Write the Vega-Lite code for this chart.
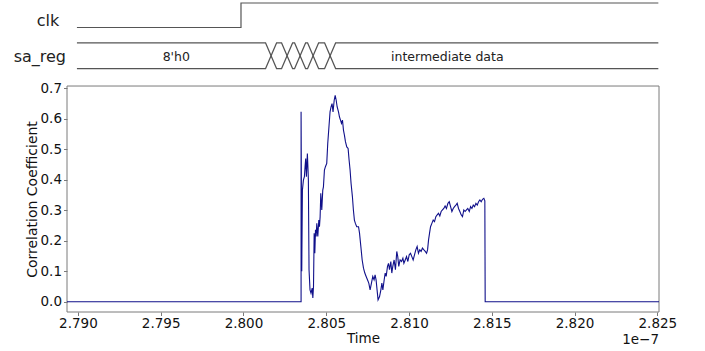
{
  "$schema": "https://vega.github.io/schema/vega-lite/v6.json",
  "width": 592,
  "height": 312,
  "autosize": {"type": "none"},
  "padding": {"left": 67, "top": 0, "right": 46, "bottom": 39},
  "background": "white",
  "config": {"view": {"stroke": null}, "font": "DejaVu Sans"},
  "datasets": {
    "corr": [
      {"i": 0, "t": 2.78934, "v": 0},
      {"i": 1, "t": 2.80348, "v": 0},
      {"i": 2, "t": 2.80348, "v": 0.623},
      {"i": 3, "t": 2.80352, "v": 0.1},
      {"i": 4, "t": 2.80356, "v": 0.366},
      {"i": 5, "t": 2.80362, "v": 0.399},
      {"i": 6, "t": 2.80368, "v": 0.41},
      {"i": 7, "t": 2.80372, "v": 0.443},
      {"i": 8, "t": 2.80376, "v": 0.47},
      {"i": 9, "t": 2.8038, "v": 0.41},
      {"i": 10, "t": 2.80386, "v": 0.486},
      {"i": 11, "t": 2.8039, "v": 0.432},
      {"i": 12, "t": 2.80392, "v": 0.399},
      {"i": 13, "t": 2.80396, "v": 0.105},
      {"i": 14, "t": 2.80402, "v": 0.039},
      {"i": 15, "t": 2.80408, "v": 0.028},
      {"i": 16, "t": 2.80415, "v": 0.045},
      {"i": 17, "t": 2.80419, "v": 0.012},
      {"i": 18, "t": 2.80423, "v": 0.05},
      {"i": 19, "t": 2.80427, "v": 0.225},
      {"i": 20, "t": 2.80431, "v": 0.159},
      {"i": 21, "t": 2.80435, "v": 0.236},
      {"i": 22, "t": 2.80439, "v": 0.214},
      {"i": 23, "t": 2.80443, "v": 0.257},
      {"i": 24, "t": 2.80449, "v": 0.214},
      {"i": 25, "t": 2.80455, "v": 0.268},
      {"i": 26, "t": 2.80459, "v": 0.246},
      {"i": 27, "t": 2.80463, "v": 0.279},
      {"i": 28, "t": 2.80467, "v": 0.356},
      {"i": 29, "t": 2.80473, "v": 0.301},
      {"i": 30, "t": 2.80479, "v": 0.366},
      {"i": 31, "t": 2.80483, "v": 0.377},
      {"i": 32, "t": 2.80489, "v": 0.432},
      {"i": 33, "t": 2.80495, "v": 0.443},
      {"i": 34, "t": 2.80503, "v": 0.454},
      {"i": 35, "t": 2.80509, "v": 0.519},
      {"i": 36, "t": 2.80517, "v": 0.579},
      {"i": 37, "t": 2.80523, "v": 0.623},
      {"i": 38, "t": 2.80529, "v": 0.639},
      {"i": 39, "t": 2.80535, "v": 0.65},
      {"i": 40, "t": 2.80541, "v": 0.623},
      {"i": 41, "t": 2.80548, "v": 0.661},
      {"i": 42, "t": 2.80554, "v": 0.677},
      {"i": 43, "t": 2.8056, "v": 0.661},
      {"i": 44, "t": 2.80566, "v": 0.639},
      {"i": 45, "t": 2.80574, "v": 0.623},
      {"i": 46, "t": 2.8058, "v": 0.606},
      {"i": 47, "t": 2.80586, "v": 0.596},
      {"i": 48, "t": 2.80592, "v": 0.585},
      {"i": 49, "t": 2.80598, "v": 0.596},
      {"i": 50, "t": 2.80604, "v": 0.563},
      {"i": 51, "t": 2.8061, "v": 0.546},
      {"i": 52, "t": 2.80616, "v": 0.525},
      {"i": 53, "t": 2.80624, "v": 0.508},
      {"i": 54, "t": 2.80632, "v": 0.503},
      {"i": 55, "t": 2.80638, "v": 0.465},
      {"i": 56, "t": 2.80644, "v": 0.432},
      {"i": 57, "t": 2.8065, "v": 0.388},
      {"i": 58, "t": 2.80658, "v": 0.345},
      {"i": 59, "t": 2.80664, "v": 0.301},
      {"i": 60, "t": 2.8067, "v": 0.268},
      {"i": 61, "t": 2.80676, "v": 0.257},
      {"i": 62, "t": 2.80684, "v": 0.246},
      {"i": 63, "t": 2.80695, "v": 0.246},
      {"i": 64, "t": 2.80701, "v": 0.225},
      {"i": 65, "t": 2.80709, "v": 0.181},
      {"i": 66, "t": 2.80717, "v": 0.137},
      {"i": 67, "t": 2.80725, "v": 0.11},
      {"i": 68, "t": 2.80733, "v": 0.094},
      {"i": 69, "t": 2.80741, "v": 0.083},
      {"i": 70, "t": 2.80749, "v": 0.072},
      {"i": 71, "t": 2.80757, "v": 0.061},
      {"i": 72, "t": 2.80765, "v": 0.039},
      {"i": 73, "t": 2.80773, "v": 0.061},
      {"i": 74, "t": 2.80781, "v": 0.083},
      {"i": 75, "t": 2.80789, "v": 0.072},
      {"i": 76, "t": 2.80795, "v": 0.088},
      {"i": 77, "t": 2.80801, "v": 0.072},
      {"i": 78, "t": 2.80807, "v": 0.039},
      {"i": 79, "t": 2.80813, "v": 0.006},
      {"i": 80, "t": 2.80822, "v": 0.017},
      {"i": 81, "t": 2.8083, "v": 0.039},
      {"i": 82, "t": 2.80836, "v": 0.061},
      {"i": 83, "t": 2.80842, "v": 0.039},
      {"i": 84, "t": 2.8085, "v": 0.072},
      {"i": 85, "t": 2.80856, "v": 0.094},
      {"i": 86, "t": 2.80862, "v": 0.083},
      {"i": 87, "t": 2.8087, "v": 0.116},
      {"i": 88, "t": 2.80876, "v": 0.126},
      {"i": 89, "t": 2.80882, "v": 0.105},
      {"i": 90, "t": 2.8089, "v": 0.132},
      {"i": 91, "t": 2.80896, "v": 0.094},
      {"i": 92, "t": 2.80902, "v": 0.116},
      {"i": 93, "t": 2.8091, "v": 0.137},
      {"i": 94, "t": 2.80918, "v": 0.105},
      {"i": 95, "t": 2.80926, "v": 0.165},
      {"i": 96, "t": 2.80932, "v": 0.148},
      {"i": 97, "t": 2.80938, "v": 0.116},
      {"i": 98, "t": 2.80946, "v": 0.137},
      {"i": 99, "t": 2.80955, "v": 0.132},
      {"i": 100, "t": 2.80963, "v": 0.143},
      {"i": 101, "t": 2.80969, "v": 0.126},
      {"i": 102, "t": 2.80977, "v": 0.137},
      {"i": 103, "t": 2.80985, "v": 0.148},
      {"i": 104, "t": 2.80993, "v": 0.132},
      {"i": 105, "t": 2.81001, "v": 0.154},
      {"i": 106, "t": 2.81009, "v": 0.159},
      {"i": 107, "t": 2.81017, "v": 0.148},
      {"i": 108, "t": 2.81025, "v": 0.137},
      {"i": 109, "t": 2.81033, "v": 0.154},
      {"i": 110, "t": 2.81041, "v": 0.17},
      {"i": 111, "t": 2.81049, "v": 0.181},
      {"i": 112, "t": 2.81057, "v": 0.159},
      {"i": 113, "t": 2.81065, "v": 0.17},
      {"i": 114, "t": 2.81073, "v": 0.165},
      {"i": 115, "t": 2.81081, "v": 0.176},
      {"i": 116, "t": 2.8109, "v": 0.17},
      {"i": 117, "t": 2.81098, "v": 0.165},
      {"i": 118, "t": 2.81106, "v": 0.159},
      {"i": 119, "t": 2.81112, "v": 0.17},
      {"i": 120, "t": 2.81118, "v": 0.203},
      {"i": 121, "t": 2.81124, "v": 0.225},
      {"i": 122, "t": 2.8113, "v": 0.246},
      {"i": 123, "t": 2.81138, "v": 0.257},
      {"i": 124, "t": 2.81146, "v": 0.268},
      {"i": 125, "t": 2.81154, "v": 0.263},
      {"i": 126, "t": 2.81162, "v": 0.279},
      {"i": 127, "t": 2.8117, "v": 0.285},
      {"i": 128, "t": 2.81178, "v": 0.29},
      {"i": 129, "t": 2.81186, "v": 0.281},
      {"i": 130, "t": 2.81194, "v": 0.296},
      {"i": 131, "t": 2.81202, "v": 0.301},
      {"i": 132, "t": 2.8121, "v": 0.306},
      {"i": 133, "t": 2.81218, "v": 0.314},
      {"i": 134, "t": 2.81226, "v": 0.306},
      {"i": 135, "t": 2.81235, "v": 0.323},
      {"i": 136, "t": 2.81243, "v": 0.328},
      {"i": 137, "t": 2.81251, "v": 0.312},
      {"i": 138, "t": 2.81259, "v": 0.296},
      {"i": 139, "t": 2.81267, "v": 0.306},
      {"i": 140, "t": 2.81275, "v": 0.312},
      {"i": 141, "t": 2.81283, "v": 0.317},
      {"i": 142, "t": 2.81291, "v": 0.323},
      {"i": 143, "t": 2.81299, "v": 0.306},
      {"i": 144, "t": 2.81307, "v": 0.296},
      {"i": 145, "t": 2.81315, "v": 0.285},
      {"i": 146, "t": 2.81323, "v": 0.279},
      {"i": 147, "t": 2.81331, "v": 0.301},
      {"i": 148, "t": 2.81339, "v": 0.296},
      {"i": 149, "t": 2.81347, "v": 0.301},
      {"i": 150, "t": 2.81355, "v": 0.306},
      {"i": 151, "t": 2.81364, "v": 0.296},
      {"i": 152, "t": 2.81372, "v": 0.312},
      {"i": 153, "t": 2.8138, "v": 0.306},
      {"i": 154, "t": 2.81388, "v": 0.317},
      {"i": 155, "t": 2.81396, "v": 0.312},
      {"i": 156, "t": 2.81404, "v": 0.323},
      {"i": 157, "t": 2.81412, "v": 0.317},
      {"i": 158, "t": 2.8142, "v": 0.328},
      {"i": 159, "t": 2.81428, "v": 0.334},
      {"i": 160, "t": 2.81436, "v": 0.328},
      {"i": 161, "t": 2.81444, "v": 0.336},
      {"i": 162, "t": 2.81452, "v": 0.339},
      {"i": 163, "t": 2.81458, "v": 0.331},
      {"i": 164, "t": 2.8146, "v": 0},
      {"i": 165, "t": 2.8251, "v": 0}
    ],
    "wave": [
      {"sig": "clk", "i": 0, "t": 2.78994, "v": 0.8997},
      {"sig": "clk", "i": 1, "t": 2.79985, "v": 0.8997},
      {"sig": "clk", "i": 2, "t": 2.79985, "v": 0.98},
      {"sig": "clk", "i": 3, "t": 2.82506, "v": 0.98},
      {"sig": "sa_upper", "i": 0, "t": 2.78994, "v": 0.849},
      {"sig": "sa_upper", "i": 1, "t": 2.801335, "v": 0.849},
      {"sig": "sa_upper", "i": 2, "t": 2.801999, "v": 0.765},
      {"sig": "sa_upper", "i": 3, "t": 2.802302, "v": 0.765},
      {"sig": "sa_upper", "i": 4, "t": 2.802966, "v": 0.849},
      {"sig": "sa_upper", "i": 5, "t": 2.803088, "v": 0.849},
      {"sig": "sa_upper", "i": 6, "t": 2.803752, "v": 0.765},
      {"sig": "sa_upper", "i": 7, "t": 2.803874, "v": 0.765},
      {"sig": "sa_upper", "i": 8, "t": 2.804538, "v": 0.849},
      {"sig": "sa_upper", "i": 9, "t": 2.804901, "v": 0.849},
      {"sig": "sa_upper", "i": 10, "t": 2.805565, "v": 0.765},
      {"sig": "sa_upper", "i": 11, "t": 2.82506, "v": 0.765},
      {"sig": "sa_lower", "i": 0, "t": 2.78994, "v": 0.765},
      {"sig": "sa_lower", "i": 1, "t": 2.801335, "v": 0.765},
      {"sig": "sa_lower", "i": 2, "t": 2.801999, "v": 0.849},
      {"sig": "sa_lower", "i": 3, "t": 2.802302, "v": 0.849},
      {"sig": "sa_lower", "i": 4, "t": 2.802966, "v": 0.765},
      {"sig": "sa_lower", "i": 5, "t": 2.803088, "v": 0.765},
      {"sig": "sa_lower", "i": 6, "t": 2.803752, "v": 0.849},
      {"sig": "sa_lower", "i": 7, "t": 2.803874, "v": 0.849},
      {"sig": "sa_lower", "i": 8, "t": 2.804538, "v": 0.765},
      {"sig": "sa_lower", "i": 9, "t": 2.804901, "v": 0.765},
      {"sig": "sa_lower", "i": 10, "t": 2.805565, "v": 0.849},
      {"sig": "sa_lower", "i": 11, "t": 2.82506, "v": 0.849}
    ],
    "labels": [
      {"kind": "name", "label": "clk", "t": 2.78819, "v": 0.921},
      {"kind": "name", "label": "sa_reg", "t": 2.7877, "v": 0.803},
      {"kind": "bus", "label": "8'h0", "t": 2.79594, "v": 0.803},
      {"kind": "bus", "label": "intermediate data", "t": 2.81231, "v": 0.803},
      {"kind": "exp", "label": "1e\u22127", "t": 2.8251, "v": -0.124}
    ],
    "frame": [
      {"x0": 2.78934, "x1": 2.8251, "y0": -0.0337, "y1": 0.7077}
    ]
  },
  "layer": [
    {
      "data": {"name": "frame"},
      "mark": {"type": "rect", "fill": null, "stroke": "#7a7a7a", "strokeWidth": 1},
      "encoding": {
        "x": {"field": "x0", "type": "quantitative",
          "scale": {"domain": [2.78934, 2.8251], "nice": false, "zero": false},
          "axis": {
            "title": "Time",
            "values": [2.79, 2.795, 2.8, 2.805, 2.81, 2.815, 2.82, 2.825],
            "format": ".3f",
            "domain": false, "grid": false,
            "tickColor": "#7a7a7a", "tickSize": 3.5,
            "labelFontSize": 13.5, "labelColor": "#111", "labelPadding": 1,
            "labelOverlap": false, "labelFont": "DejaVu Sans",
            "titleFontSize": 13.5, "titleFontWeight": "normal", "titleColor": "#111",
            "titlePadding": 1, "titleFont": "DejaVu Sans"
          }},
        "x2": {"field": "x1"},
        "y": {"field": "y0", "type": "quantitative",
          "scale": {"domain": [-0.0337, 0.9899], "nice": false, "zero": false},
          "axis": {
            "title": "Correlation Coefficient",
            "values": [0, 0.1, 0.2, 0.3, 0.4, 0.5, 0.6, 0.7],
            "format": ".1f",
            "domain": false, "grid": false,
            "tickColor": "#7a7a7a", "tickSize": 3.5,
            "labelFontSize": 13.5, "labelColor": "#111", "labelPadding": 2,
            "labelOverlap": false, "labelFont": "DejaVu Sans",
            "titleFontSize": 14, "titleFontWeight": "normal", "titleColor": "#111",
            "titleFont": "DejaVu Sans",
            "titleX": -31, "titleY": 199, "titleAngle": -90, "titleAlign": "center", "titleBaseline": "alphabetic"
          }},
        "y2": {"field": "y1"}
      }
    },
    {
      "data": {"name": "corr"},
      "mark": {"type": "line", "color": "#10108a", "strokeWidth": 1.1, "interpolate": "linear"},
      "encoding": {
        "x": {"field": "t", "type": "quantitative"},
        "y": {"field": "v", "type": "quantitative"},
        "order": {"field": "i", "type": "quantitative"}
      }
    },
    {
      "data": {"name": "wave"},
      "mark": {"type": "line", "color": "#555555", "strokeWidth": 1.2},
      "encoding": {
        "x": {"field": "t", "type": "quantitative"},
        "y": {"field": "v", "type": "quantitative"},
        "detail": {"field": "sig"},
        "order": {"field": "i", "type": "quantitative"}
      }
    },
    {
      "data": {"name": "labels"},
      "transform": [{"filter": "datum.kind === 'name'"}],
      "mark": {"type": "text", "fontSize": 16, "font": "DejaVu Sans", "color": "#222", "align": "center", "baseline": "middle"},
      "encoding": {
        "x": {"field": "t", "type": "quantitative"},
        "y": {"field": "v", "type": "quantitative"},
        "text": {"field": "label"}
      }
    },
    {
      "data": {"name": "labels"},
      "transform": [{"filter": "datum.kind === 'bus'"}],
      "mark": {"type": "text", "fontSize": 12.5, "font": "DejaVu Sans", "color": "#222", "align": "center", "baseline": "middle"},
      "encoding": {
        "x": {"field": "t", "type": "quantitative"},
        "y": {"field": "v", "type": "quantitative"},
        "text": {"field": "label"}
      }
    },
    {
      "data": {"name": "labels"},
      "transform": [{"filter": "datum.kind === 'exp'"}],
      "mark": {"type": "text", "fontSize": 13.5, "font": "DejaVu Sans", "color": "#111", "align": "right", "baseline": "middle"},
      "encoding": {
        "x": {"field": "t", "type": "quantitative"},
        "y": {"field": "v", "type": "quantitative"},
        "text": {"field": "label"}
      }
    }
  ]
}
